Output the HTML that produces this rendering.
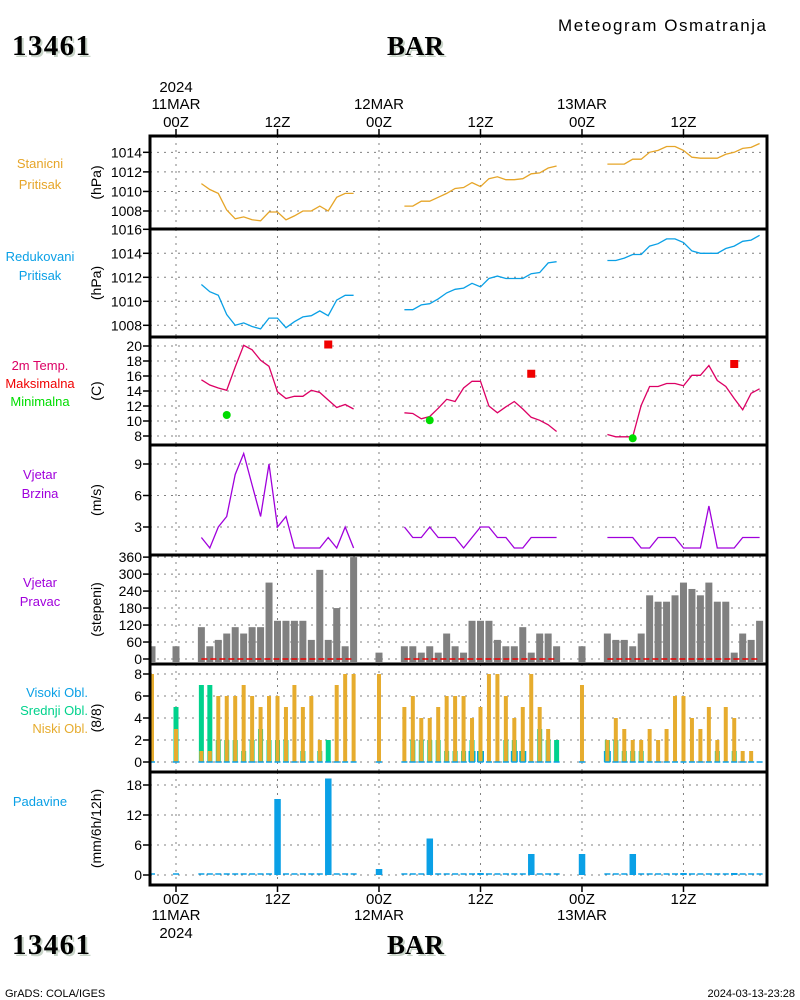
<!DOCTYPE html>
<html><head><meta charset="utf-8">
<style>
html,body{margin:0;padding:0;background:#fff;}
svg{display:block;font-family:"Liberation Sans",sans-serif;}
</style></head>
<body>
<svg id="c" width="800" height="1000" viewBox="0 0 800 1000" xmlns="http://www.w3.org/2000/svg">
<g>
<text x="14" y="57" font-family="Liberation Serif,serif" font-weight="bold" font-size="29" fill="#c8d4c8" textLength="78">13461</text>
<text x="12" y="55" font-family="Liberation Serif,serif" font-weight="bold" font-size="29" fill="#000" textLength="78">13461</text>
<text x="389" y="57" font-family="Liberation Serif,serif" font-weight="bold" font-size="27" fill="#c8d4c8">BAR</text>
<text x="387" y="55" font-family="Liberation Serif,serif" font-weight="bold" font-size="27" fill="#000">BAR</text>
<text x="558" y="31" font-size="17" fill="#000" textLength="208">Meteogram Osmatranja</text>
</g>
<g>
<text x="14" y="956" font-family="Liberation Serif,serif" font-weight="bold" font-size="29" fill="#c8d4c8" textLength="78">13461</text>
<text x="12" y="954" font-family="Liberation Serif,serif" font-weight="bold" font-size="29" fill="#000" textLength="78">13461</text>
<text x="389" y="956" font-family="Liberation Serif,serif" font-weight="bold" font-size="27" fill="#c8d4c8">BAR</text>
<text x="387" y="954" font-family="Liberation Serif,serif" font-weight="bold" font-size="27" fill="#000">BAR</text>
<text x="5" y="997" font-size="11" fill="#000">GrADS: COLA/IGES</text>
<text x="795" y="997" font-size="11" fill="#000" text-anchor="end">2024-03-13-23:28</text>
</g>
<g id="g"></g>
</svg>
<script>
// ---- data ----
const seg1 = [3,4,5,6,7,8,9,10,11,12,13,14,15,16,17,18,19,20,21];
const seg2 = [27,28,29,30,31,32,33,34,35,36,37,38,39,40,41,42,43,44,45];
const seg3 = [51,52,53,54,55,56,57,58,59,60,61,62,63,64,65,66,67,68,69];
const lineHours = seg1.concat(seg2, seg3);
const barHours = [-3,0].concat(seg1,[24],seg2,[48],seg3);
const stnPress = [1010.8,1010.2,1009.8,1008.1,1007.2,1007.4,1007.1,1007.0,1007.9,1007.9,1007.1,1007.5,1008.0,1008.0,1008.5,1008.0,1009.4,1009.8,1009.8,
 1008.5,1008.5,1009.0,1009.0,1009.4,1009.8,1010.3,1010.4,1010.9,1010.5,1011.3,1011.5,1011.2,1011.2,1011.3,1011.8,1011.9,1012.4,1012.6,
 1012.8,1012.8,1012.8,1013.3,1013.3,1014.0,1014.2,1014.6,1014.6,1014.2,1013.5,1013.4,1013.4,1013.4,1013.8,1014.0,1014.4,1014.5,1014.9];
const redPress = [1011.4,1010.8,1010.5,1008.9,1008.0,1008.2,1007.9,1007.7,1008.6,1008.6,1007.8,1008.3,1008.7,1008.8,1009.2,1008.8,1010.1,1010.5,1010.5,
 1009.3,1009.3,1009.7,1009.8,1010.2,1010.7,1011.0,1011.1,1011.5,1011.2,1011.9,1012.1,1011.9,1011.9,1011.9,1012.3,1012.4,1013.2,1013.3,
 1013.4,1013.4,1013.6,1013.9,1013.9,1014.6,1014.8,1015.2,1015.2,1014.9,1014.2,1014.0,1014.0,1014.0,1014.4,1014.6,1015.0,1015.1,1015.5];
const temp = [15.5,14.8,14.4,14.1,17.2,20.1,19.5,18.1,17.3,13.9,13.0,13.3,13.3,14.1,13.8,12.8,11.8,12.2,11.6,
 11.1,11.0,10.3,10.6,11.7,12.9,12.6,14.4,15.3,15.3,12.0,11.1,11.9,12.6,11.6,10.5,10.1,9.5,8.6,
 8.2,7.9,7.9,7.9,12.1,14.6,14.6,15.0,15.0,14.7,16.1,16.1,17.4,15.4,14.6,13.0,11.5,13.7,14.3];
const tmaxHours = [18,42,66];
const tmax = [20.2,16.3,17.6];
const tminHours = [6,30,54];
const tmin = [10.8,10.1,7.7];
const windSpd = [2,1,3,4,8,10,7,4,9,3,4,1,1,1,1,2,1,3,1,
 3,2,2,3,2,2,2,1,2,3,3,2,2,1,1,2,2,2,2,
 2,2,2,2,1,1,2,2,2,1,1,1,5,1,1,1,2,2,2];
const windDir = [45,45,
 112.5,45,67.5,90,112.5,90,112.5,112.5,270,135,135,135,135,67.5,315,67.5,180,45,360,
 22.5,
 45,45,22.5,45,22.5,90,45,22.5,135,135,135,67.5,45,45,112.5,22.5,90,90,45,
 45,
 90,67.5,67.5,45,90,225,202.5,202.5,225,270,247.5,225,270,202.5,202.5,22.5,90,67.5,135];
const lowCld = [8,3, 1,1,6,6,6,7,6,5,6,6,5,7,5,6,2,0,7,8,8, 8,
 5,6,4,4,5,6,6,6,4,5,8,8,6,4,5,8,5,3,0, 7,
 2,4,3,2,2,3,2,3,6,6,4,3,5,2,5,4,1,1,0];
const midCld = [0,5, 7,7,2,2,2,1,2,3,2,2,2,0,1,0,1,2,0,0,0, 0,
 0,2,2,2,2,1,1,1,2,1,0,0,2,2,1,0,3,2,2, 0,
 2,2,1,1,1,0,0,0,0,0,0,0,0,1,0,1,0,0,0];
const highCld = [0,0, 0,0,0,0,0,0,0,0,0,0,0,0,0,0,0,0,0,0,0, 0,
 0,0,0,0,0,0,0,0,1,1,0,0,0,1,1,0,0,0,0, 0,
 1,0,0,0,0,0,0,0,0,0,0,0,0,0,0,0,0,0,0];
const pcpHours = [12,18,24,30,36,42,48,54,60,66];
const pcp = [15.2,19.3,1.2,7.3,0.4,4.2,4.2,4.2,0.4,0.4];
const timeTicks = [0,12,24,36,48,60];
const timeLabels = ["00Z","12Z","00Z","12Z","00Z","12Z"];
const dateLabels = ["11MAR","","12MAR","","13MAR",""];

// ---- axes ----
const X0=150, X1=767;
const x = t => 176 + t*8.458;
const panels = [
 {name:'station-pressure', top:136, bot:229, y:v=>211-(v-1008)*9.78, ticks:[1008,1010,1012,1014], unit:'(hPa)', labels:[['Stanicni','#e6a528'],['Pritisak','#e6a528']], ly:[168,189]},
 {name:'reduced-pressure', top:229, bot:337, y:v=>325.3-(v-1008)*12, ticks:[1008,1010,1012,1014,1016], unit:'(hPa)', labels:[['Redukovani','#0aa0e6'],['Pritisak','#0aa0e6']], ly:[261,280]},
 {name:'temperature', top:337, bot:445, y:v=>346+(20-v)*7.5, ticks:[8,10,12,14,16,18,20], unit:'(C)', labels:[['2m Temp.','#dc0064'],['Maksimalna','#f00000'],['Minimalna','#00dc00']], ly:[370,388,406]},
 {name:'wind-speed', top:445, bot:555, y:v=>527-(v-3)*10.5, ticks:[3,6,9], unit:'(m/s)', labels:[['Vjetar','#a000dc'],['Brzina','#a000dc']], ly:[479,498]},
 {name:'wind-direction', top:555, bot:664, y:v=>659-v*0.283, ticks:[0,60,120,180,240,300,360], unit:'(stepeni)', labels:[['Vjetar','#a000dc'],['Pravac','#a000dc']], ly:[587,606]},
 {name:'cloud-cover', top:664, bot:772, y:v=>762-v*11, ticks:[0,2,4,6,8], unit:'(8/8)', labels:[['Visoki Obl.','#0aa0e6'],['Srednji Obl.','#00d28c'],['Niski Obl.','#e6ac2e']], ly:[697,715,733], right:true},
 {name:'precipitation', top:772, bot:885, y:v=>875-v*5, ticks:[0,6,12,18], unit:'(mm/6h/12h)', labels:[['Padavine','#0aa0e6']], ly:[806]}
];
const NS='http://www.w3.org/2000/svg';
const G=document.getElementById('g');
function mk(tag, attrs, parent){ const e=document.createElementNS(NS,tag); for(const k in attrs) e.setAttribute(k,attrs[k]); (parent||G).appendChild(e); return e; }

panels.forEach(p=>{
 const pg = mk('g',{});
 
 
 timeTicks.forEach(t=>{ const l=mk('line',{x1:x(t),x2:x(t),y1:p.top,y2:p.bot,stroke:'#808080','stroke-width':1,'stroke-dasharray':'2,5'},pg);
  
   });
 p.ticks.forEach(v=>{ const yy=p.y(v);
  const l=mk('line',{x1:X0,x2:X1,y1:yy,y2:yy,stroke:'#808080','stroke-width':1,'stroke-dasharray':'2,5'},pg);
  
  
  const tk=mk('line',{x1:143,x2:150,y1:yy,y2:yy,stroke:'#000','stroke-width':1.5},pg);
  
  
  const tx=mk('text',{x:142,y:yy+5,'text-anchor':'end','font-size':14,fill:'#000'},pg); tx.textContent=v;
  
   });
 const cy=(p.top+p.bot)/2;
 const ut=mk('text',{x:0,y:0,transform:`translate(101,${cy}) rotate(-90)`,'text-anchor':'middle','font-size':14,fill:'#000'},pg); ut.textContent=p.unit;
 
 
 p.labels.forEach((lb,i)=>{ const tx=mk('text',{x:p.right?88:40,y:p.ly[i],'text-anchor':p.right?'end':'middle','font-size':13,fill:lb[1]},pg); tx.textContent=lb[0];
  
   });
});

function line(hours, vals, yf, color, name){
 let d='', prev=null;
 hours.forEach((h,i)=>{ const v=vals[i]; if(v==null){prev=null;return;}
  d += (prev!==null && h-prev===1 ? 'L':'M') + x(h).toFixed(1)+','+yf(v).toFixed(1);
  prev=h; });
 const e=mk('path',{d:d,fill:'none',stroke:color,'stroke-width':1.3});
 
 
}
line(lineHours, stnPress, panels[0].y, '#e6a528', 'station-pressure-line');
line(lineHours, redPress, panels[1].y, '#0aa0e6', 'reduced-pressure-line');
line(lineHours, temp, panels[2].y, '#dc0064', 'temperature-line');
line(lineHours, windSpd, panels[3].y, '#a000dc', 'wind-speed-line');
tmaxHours.forEach((h,i)=>{ const e=mk('rect',{x:x(h)-4,y:panels[2].y(tmax[i])-4,width:8,height:8,fill:'#f00000'});
 
  });
tminHours.forEach((h,i)=>{ const e=mk('circle',{cx:x(h),cy:panels[2].y(tmin[i]),r:4,fill:'#00dc00'});
 
  });

// wind direction bars
const pd=panels[4];
barHours.forEach((h,i)=>{ const v=windDir[i]; const y0=pd.y(0)+3; const yy=pd.y(v);
 const cx=Math.max(x(h),152);
 const e=mk('rect',{x:cx-3.5,y:yy,width:7,height:y0-yy,fill:'#808080'});
 
  });
[seg1,seg2,seg3].forEach(s=>{ const e=mk('line',{x1:x(s[0]),x2:x(s[s.length-1]),y1:pd.y(0),y2:pd.y(0),stroke:'#f00000','stroke-width':1.5,'stroke-dasharray':'6,3'});
 
  });

// clouds
const pc=panels[5];
barHours.forEach((h,i)=>{ const cx=Math.max(x(h),152); const y0=pc.y(0);
 if(highCld[i]>0){ const e=mk('rect',{x:cx-3.5,y:pc.y(highCld[i]),width:7,height:y0-pc.y(highCld[i]),fill:'#0aa0e6'});
  
   }
 if(midCld[i]>0){ const e=mk('rect',{x:cx-2.5,y:pc.y(midCld[i]),width:5,height:y0-pc.y(midCld[i]),fill:'#00d28c'});
  
   }
 if(lowCld[i]>0){ const e=mk('rect',{x:cx-2,y:pc.y(lowCld[i]),width:4,height:y0-pc.y(lowCld[i]),fill:'#e6ac2e'});
  
   }
 const b=mk('line',{x1:cx-3,x2:cx+3,y1:y0,y2:y0,stroke:'#0aa0e6','stroke-width':1.5});
 
 
});

// precipitation
const pp=panels[6];
barHours.forEach(h=>{ const cx=Math.max(x(h),152); const b=mk('line',{x1:cx-3,x2:cx+3,y1:pp.y(0)-1,y2:pp.y(0)-1,stroke:'#0aa0e6','stroke-width':1.5});
 
  });
pcpHours.forEach((h,i)=>{ const yy=pp.y(pcp[i]); const e=mk('rect',{x:x(h)-3.2,y:yy,width:6.5,height:pp.y(0)-yy,fill:'#0aa0e6'});
 
  });

// frame
panels.forEach((p,i)=>{ if(i>0){ const l=mk('line',{x1:X0,x2:X1,y1:p.top,y2:p.top,stroke:'#000','stroke-width':3});
 
  } });
const fr=mk('rect',{x:X0,y:136,width:X1-X0,height:885-136,fill:'none',stroke:'#000','stroke-width':3});



// time axes
timeTicks.forEach((t,i)=>{ const xx=x(t);
 [[129,136],[885,892]].forEach(r=>{ const l=mk('line',{x1:xx,x2:xx,y1:r[0],y2:r[1],stroke:'#000','stroke-width':1.5});
  
   });
 const a=mk('text',{x:xx,y:127,'text-anchor':'middle','font-size':15,fill:'#000'}); a.textContent=timeLabels[i];
 
 
 const b=mk('text',{x:xx,y:904,'text-anchor':'middle','font-size':15,fill:'#000'}); b.textContent=timeLabels[i];
 
 
 if(dateLabels[i]){
  const c=mk('text',{x:xx,y:109,'text-anchor':'middle','font-size':15,fill:'#000'}); c.textContent=dateLabels[i];
  
  
  const d=mk('text',{x:xx,y:920,'text-anchor':'middle','font-size':15,fill:'#000'}); d.textContent=dateLabels[i];
  
  
 }
});
const y1=mk('text',{x:x(0),y:92,'text-anchor':'middle','font-size':15,fill:'#000'}); y1.textContent='2024';


const y2=mk('text',{x:x(0),y:938,'text-anchor':'middle','font-size':15,fill:'#000'}); y2.textContent='2024';


</script>
</body></html>
